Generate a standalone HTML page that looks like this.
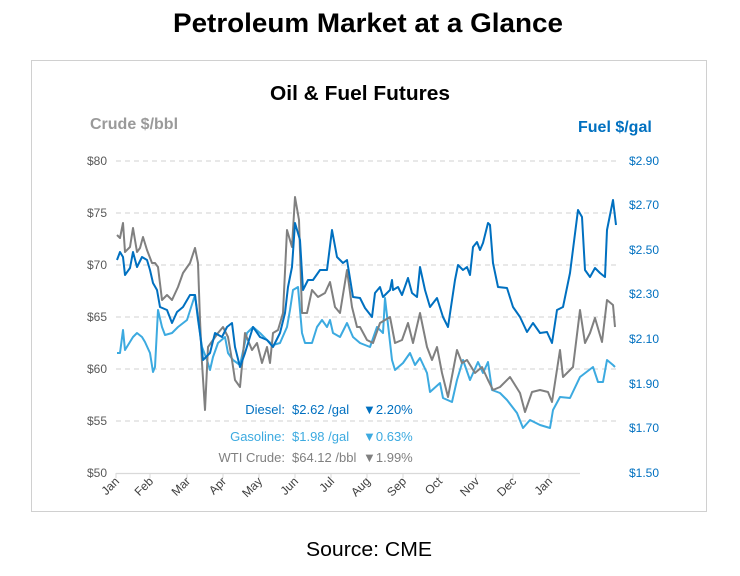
<!DOCTYPE html>
<html><head><meta charset="utf-8"><style>
body{margin:0;width:740px;height:571px;background:#fff;overflow:hidden;font-family:"Liberation Sans",sans-serif}
</style></head><body>
<svg width="740" height="571" xmlns="http://www.w3.org/2000/svg" font-family="Liberation Sans, sans-serif">
<text x="368" y="32" text-anchor="middle" font-size="27" font-weight="bold" fill="#000" textLength="390" lengthAdjust="spacingAndGlyphs">Petroleum Market at a Glance</text>
<rect x="31.5" y="60.5" width="675" height="451" fill="#fff" stroke="#d0d0d0"/>
<text x="360" y="100" text-anchor="middle" font-size="20" font-weight="bold" fill="#000" textLength="180" lengthAdjust="spacingAndGlyphs">Oil &amp; Fuel Futures</text>
<text x="90" y="129" font-size="16" font-weight="bold" fill="#9a9a9a">Crude $/bbl</text>
<text x="578" y="132" font-size="16" font-weight="bold" fill="#0070C0">Fuel $/gal</text>
<g stroke="#d9d9d9" stroke-dasharray="5,4" stroke-width="1.2">
<line x1="116" y1="161" x2="617" y2="161"/><line x1="116" y1="213" x2="617" y2="213"/><line x1="116" y1="265" x2="617" y2="265"/><line x1="116" y1="317" x2="617" y2="317"/><line x1="116" y1="369" x2="617" y2="369"/><line x1="116" y1="421" x2="617" y2="421"/>
</g>
<line x1="116" y1="473.5" x2="580" y2="473.5" stroke="#d9d9d9" stroke-width="1.2"/>
<g stroke="#d9d9d9"><line x1="116" y1="473" x2="116" y2="478"/><line x1="150" y1="473" x2="150" y2="478"/><line x1="187" y1="473" x2="187" y2="478"/><line x1="223" y1="473" x2="223" y2="478"/><line x1="259" y1="473" x2="259" y2="478"/><line x1="295" y1="473" x2="295" y2="478"/><line x1="331" y1="473" x2="331" y2="478"/><line x1="367" y1="473" x2="367" y2="478"/><line x1="403" y1="473" x2="403" y2="478"/><line x1="439" y1="473" x2="439" y2="478"/><line x1="476" y1="473" x2="476" y2="478"/><line x1="513" y1="473" x2="513" y2="478"/><line x1="549" y1="473" x2="549" y2="478"/></g>
<g font-size="12" fill="#595959" text-anchor="end">
<text x="107" y="165">$80</text><text x="107" y="217">$75</text><text x="107" y="269">$70</text><text x="107" y="321">$65</text><text x="107" y="373">$60</text><text x="107" y="425">$55</text><text x="107" y="477">$50</text>
</g>
<g font-size="12" fill="#0070C0">
<text x="629" y="165">$2.90</text><text x="629" y="209">$2.70</text><text x="629" y="254">$2.50</text><text x="629" y="298">$2.30</text><text x="629" y="343">$2.10</text><text x="629" y="388">$1.90</text><text x="629" y="432">$1.70</text><text x="629" y="477">$1.50</text>
</g>
<g font-size="12" fill="#404040" text-anchor="end">
<text transform="translate(120,482) rotate(-45)">Jan</text><text transform="translate(154,482) rotate(-45)">Feb</text><text transform="translate(191,482) rotate(-45)">Mar</text><text transform="translate(227,482) rotate(-45)">Apr</text><text transform="translate(263,482) rotate(-45)">May</text><text transform="translate(299,482) rotate(-45)">Jun</text><text transform="translate(335,482) rotate(-45)">Jul</text><text transform="translate(371,482) rotate(-45)">Aug</text><text transform="translate(407,482) rotate(-45)">Sep</text><text transform="translate(443,482) rotate(-45)">Oct</text><text transform="translate(480,482) rotate(-45)">Nov</text><text transform="translate(517,482) rotate(-45)">Dec</text><text transform="translate(553,482) rotate(-45)">Jan</text>
</g>
<g fill="none" stroke-width="2" stroke-linejoin="round">
<polyline stroke="#3CAAE0" points="117,353 120,353 123,330 125,350 133,337 137,333 142,337 145,342 150,353 153,372 155,367 158,310 162,327 165,335 172,333 178,327 187,320 195,295 198,320 202,347 207,360 210,370 213,357 218,343 225,337 228,353 233,360 240,365 247,333 253,327 260,333 267,340 273,345 280,343 287,327 290,310 293,290 298,287 302,333 305,343 312,343 317,327 322,320 327,327 330,320 333,333 340,337 347,323 353,337 360,343 370,347 377,327 383,333 385,298 392,360 395,370 403,363 410,353 415,365 420,358 427,373 430,392 440,383 443,398 452,402 457,380 463,360 470,380 478,362 483,373 488,362 492,390 500,393 507,400 517,413 523,428 530,420 540,425 550,428 553,410 560,397 570,398 580,377 593,367 598,382 603,382 607,360 613,365 615,367"/>
<polyline stroke="#808080" points="117,235 120,238 123,223 125,252 130,247 133,228 137,252 140,248 143,237 147,250 152,263 155,263 158,267 162,300 167,295 172,300 178,287 183,273 190,263 195,248 198,263 200,320 202,363 205,410 208,347 213,340 218,333 223,327 228,337 232,360 235,380 240,387 245,333 252,350 257,343 262,363 267,347 270,363 273,333 278,330 283,313 287,230 292,247 295,197 299,220 302,313 307,313 312,290 318,297 325,293 330,282 335,307 340,313 347,270 352,307 357,327 360,327 367,340 373,343 380,323 390,317 395,343 402,340 408,323 413,343 420,313 427,347 432,360 437,347 442,373 448,397 457,350 462,363 467,360 475,373 482,367 488,380 493,390 500,387 510,377 520,393 525,412 532,392 540,390 548,392 552,402 560,350 563,377 573,367 580,310 585,343 590,333 595,318 602,342 607,300 613,305 615,327"/>
<polyline stroke="#0070C0" points="117,260 120,252 123,257 125,275 130,268 133,252 137,267 142,257 147,260 150,270 153,283 157,290 160,307 167,310 172,323 177,312 183,307 190,295 195,295 200,333 203,360 210,353 215,333 222,337 227,327 232,323 235,347 240,367 245,353 253,327 260,337 267,340 273,347 280,333 285,313 288,287 292,267 295,223 300,240 303,290 308,280 313,280 320,270 327,270 332,230 337,257 343,263 347,260 353,297 360,298 365,308 372,317 375,293 380,287 383,297 390,290 392,280 393,290 398,287 402,295 408,278 412,293 417,297 420,267 425,290 430,307 437,298 443,317 448,327 455,280 458,265 463,270 467,267 470,275 473,247 477,242 480,250 483,243 488,223 490,225 493,263 498,287 507,288 513,307 520,317 527,332 533,323 540,333 547,332 552,343 557,310 563,307 570,273 578,210 582,217 585,270 590,277 595,268 600,273 605,277 607,230 613,200 616,225"/>
</g>
<g font-size="13">
<text x="285" y="414" text-anchor="end" fill="#0070C0">Diesel:</text><text x="292" y="414" fill="#0070C0">$2.62 /gal</text><text x="363" y="414" fill="#0070C0">▼2.20%</text>
<text x="285" y="441" text-anchor="end" fill="#3CAAE0">Gasoline:</text><text x="292" y="441" fill="#3CAAE0">$1.98 /gal</text><text x="363" y="441" fill="#3CAAE0">▼0.63%</text>
<text x="285" y="462" text-anchor="end" fill="#808080">WTI Crude:</text><text x="292" y="462" fill="#808080">$64.12 /bbl</text><text x="363" y="462" fill="#808080">▼1.99%</text>
</g>
<text x="369" y="556" text-anchor="middle" font-size="20" fill="#000" textLength="126" lengthAdjust="spacingAndGlyphs">Source: CME</text>
</svg>
</body></html>
